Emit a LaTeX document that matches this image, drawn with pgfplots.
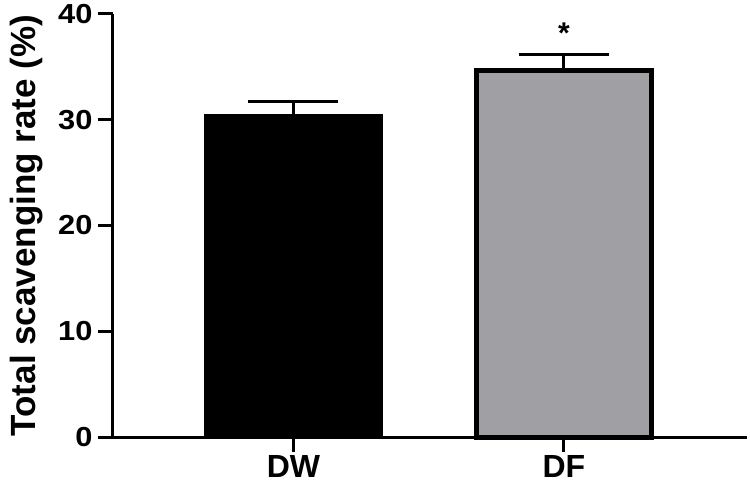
\documentclass[border=0pt]{standalone}
\usepackage{fontspec}
\setmainfont{Liberation Sans}
\newfontfamily\tickfont[FakeStretch=1.12]{Liberation Sans}
\usepackage{pgfplots}
\pgfplotsset{compat=1.18}
\definecolor{dfgray}{RGB}{160,159,164}
\begin{document}
\begin{tikzpicture}[x=1pt,y=1pt]
\path[use as bounding box] (0,0) rectangle (750,493);
\begin{axis}[
  at={(113pt,56pt)}, anchor=south west,
  scale only axis, width=634pt, height=423pt,
  xmin=-0.667, xmax=1.677, ymin=0, ymax=40,
  axis x line=bottom, axis y line=left,
  axis line style={-, line width=3pt, black},
  xtick={0,1}, xticklabels={DW,DF},
  ytick={0,10,20,30,40},
  tick align=outside, major tick length=15pt,
  tick style={line width=3pt, black},
  /pgf/number format/assume math mode=true,
  yticklabel style={font=\tickfont\fontsize{27.5}{27.5}\selectfont\bfseries, xshift=-2pt},
  xticklabel style={font=\fontsize{32}{32}\selectfont\bfseries},
  ylabel={Total scavenging rate (\%)},
  ylabel style={font=\fontsize{35}{35}\selectfont\bfseries, inner sep=0pt,
    at={(axis description cs:-0.163,0.5)}, anchor=north},
  clip=false,
]
\addplot[ybar, bar shift=0pt, bar width=179pt, fill=black, draw=none,
  error bars/.cd, y dir=plus, y explicit,
  error bar style={line width=3pt, black},
  error mark options={rotate=90, mark size=45pt, line width=3pt, black}]
  coordinates {(0,30.5) +- (0,1.2)};
\addplot[ybar, bar shift=0pt, bar width=175pt, fill=dfgray, draw=black, line width=5pt,
  error bars/.cd, y dir=plus, y explicit,
  error bar style={line width=3pt, black},
  error mark options={rotate=90, mark size=45pt, line width=3pt, black}]
  coordinates {(1,34.65) +- (0,1.5)};
\node[anchor=base, font=\fontsize{30}{30}\selectfont\bfseries] at (axis cs:1,37.2) {*};
\end{axis}
\end{tikzpicture}
\end{document}
